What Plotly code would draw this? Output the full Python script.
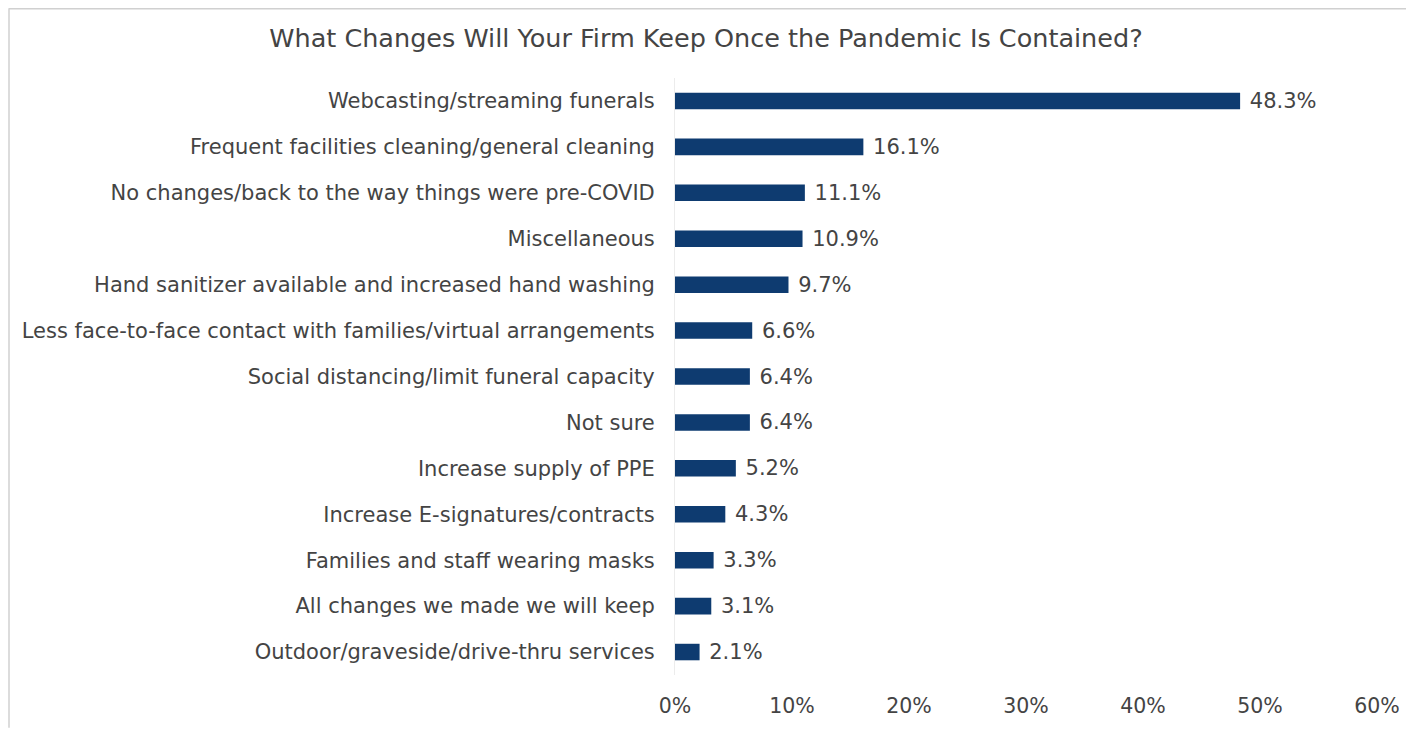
import plotly.graph_objects as go

categories = [
    "Webcasting/streaming funerals",
    "Frequent facilities cleaning/general cleaning",
    "No changes/back to the way things were pre-COVID",
    "Miscellaneous",
    "Hand sanitizer available and increased hand washing",
    "Less face-to-face contact with families/virtual arrangements",
    "Social distancing/limit funeral capacity",
    "Not sure",
    "Increase supply of PPE",
    "Increase E-signatures/contracts",
    "Families and staff wearing masks",
    "All changes we made we will keep",
    "Outdoor/graveside/drive-thru services",
]
values = [48.3, 16.1, 11.1, 10.9, 9.7, 6.6, 6.4, 6.4, 5.2, 4.3, 3.3, 3.1, 2.1]
tick_vals = [0, 10, 20, 30, 40, 50, 60]
tick_text = ["0%", "10%", "20%", "30%", "40%", "50%", "60%"]
title_text = "What Changes Will Your Firm Keep Once the Pandemic Is Contained?"

font_family = "DejaVu Sans, sans-serif"
text_color = "#444444"

W, H = 1406, 722
L, R, T, B = 667, 37, 70, 53
pw, ph = W - L - R, H - T - B

fig = go.Figure(
    go.Bar(
        x=values,
        y=categories,
        orientation="h",
        marker=dict(color="#0E3B70", line=dict(width=0)),
        width=0.36,
        text=[f" {v:.1f}%" for v in values],
        textposition="outside",
        constraintext="none",
        textfont=dict(size=21, color=text_color, family=font_family),
        cliponaxis=False,
    )
)

fig.update_layout(
    width=W,
    height=H,
    paper_bgcolor="white",
    plot_bgcolor="white",
    margin=dict(l=L, r=R, t=T, b=B),
    title=dict(
        text=title_text,
        x=698 / W,
        xanchor="center",
        y=1 - 30 / H,
        yanchor="middle",
        font=dict(size=25.5, color=text_color, family=font_family),
    ),
    showlegend=False,
    font=dict(family=font_family, color=text_color),
    shapes=[
        dict(type="line", xref="paper", yref="paper",
             x0=-(L - 1) / pw, x1=1 + R / pw,
             y0=1 + (T - 0.5) / ph, y1=1 + (T - 0.5) / ph,
             line=dict(color="#d0d0d0", width=1.5)),
        dict(type="line", xref="paper", yref="paper",
             x0=-(L - 1) / pw, x1=-(L - 1) / pw,
             y0=-B / ph, y1=1 + T / ph,
             line=dict(color="#d0d0d0", width=1.5)),
    ],
)

fig.update_xaxes(
    range=[0, 60],
    tickvals=tick_vals,
    ticktext=tick_text,
    showgrid=False,
    zeroline=False,
    showline=False,
    tickfont=dict(size=20.5, color=text_color, family=font_family),
    ticks="",
    ticklabelstandoff=16,
)
fig.update_yaxes(
    categoryorder="array",
    categoryarray=categories[::-1],
    showgrid=False,
    zeroline=False,
    showline=True,
    linecolor="#ececec",
    linewidth=1,
    tickfont=dict(size=21, color=text_color, family=font_family),
    ticks="",
    ticklabelstandoff=15,
)

fig.write_html("out.html")
